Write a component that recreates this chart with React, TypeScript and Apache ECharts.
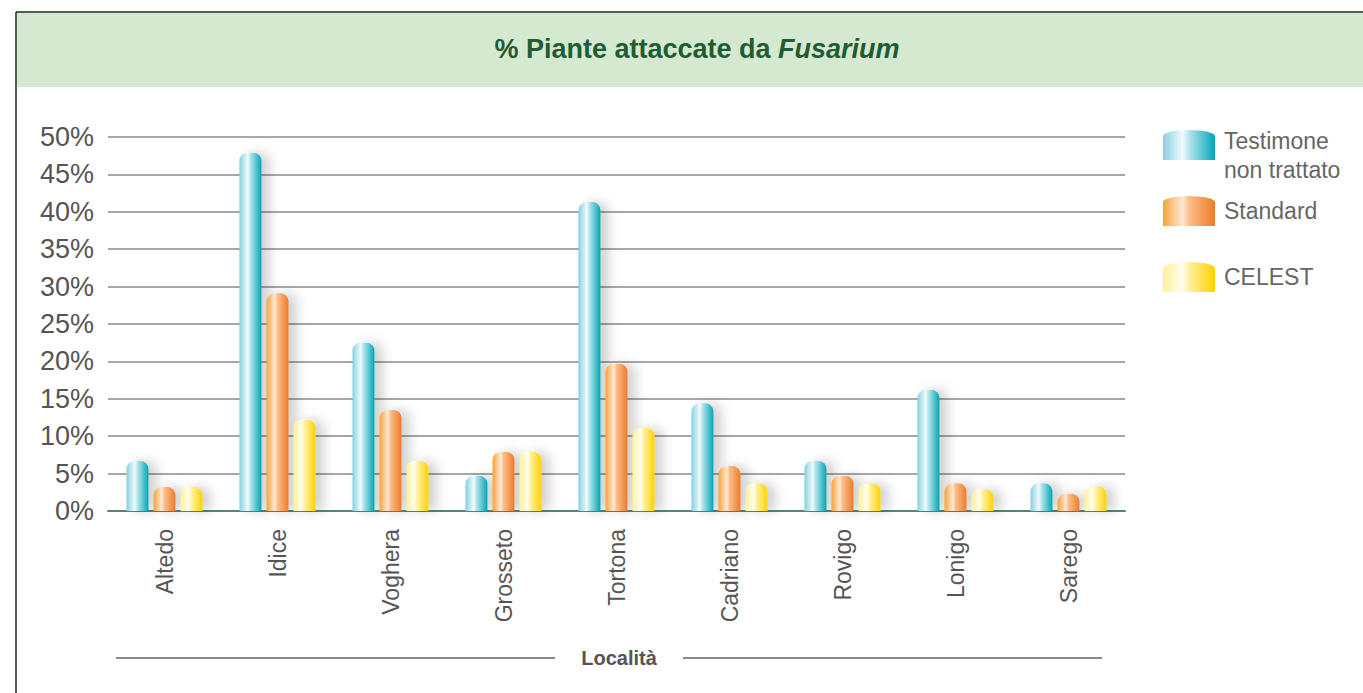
import React, { useEffect, useRef } from "react";
import * as echarts from "echarts";

const categories = ["Altedo", "Idice", "Voghera", "Grosseto", "Tortona", "Cadriano", "Rovigo", "Lonigo", "Sarego"];
const testimone = [6.7, 47.9, 22.5, 4.7, 41.3, 14.4, 6.7, 16.2, 3.7];
const standard = [3.2, 29.1, 13.5, 7.9, 19.7, 6.0, 4.7, 3.7, 2.3];
const celest = [3.2, 12.2, 6.7, 7.9, 11.1, 3.7, 3.7, 2.9, 3.3];
const seriesNames = ["Testimone\nnon trattato", "Standard", "CELEST"];

const grad = (a: string, b: string, c: string, d: string) =>
  new echarts.graphic.LinearGradient(0, 0, 1, 0, [
    { offset: 0, color: a },
    { offset: 0.38, color: b },
    { offset: 0.5, color: c },
    { offset: 1, color: d },
  ]);

const colors = [
  () => grad("#84d1e0", "#f2fbfc", "#b5e4ec", "#00a6b5"),
  () => grad("#f9a235", "#fde9d8", "#fbbf8c", "#ef7a27"),
  () => grad("#fff29a", "#fffdf0", "#fff1a0", "#ffd200"),
];

const legendIcon = "path://M0,30 L0,6 A26,6 0 0 1 52,6 L52,30 Z";

export default function App() {
  const ref = useRef<HTMLDivElement>(null);
  useEffect(() => {
    if (!ref.current) return;
    const chart = echarts.init(ref.current, null, { renderer: "svg" });
    const data = [testimone, standard, celest];
    const legendTops = [114, 196, 262];
    chart.setOption({
      animation: false,
      backgroundColor: "#ffffff",
      grid: { left: 108, right: 238, top: 137, bottom: 182, containLabel: false },
      legend: seriesNames.map((n, i) => ({
        data: [n],
        orient: "vertical",
        left: 1163,
        top: legendTops[i],
        itemWidth: 52,
        itemHeight: 30,
        itemGap: 0,
        padding: 0,
        icon: legendIcon,
        selectedMode: false,
        formatter: (name: string) =>
          i === 0
            ? "{s| }\n" + name.split("\n").map((t) => "{a|" + t + "}").join("\n")
            : "{a|" + name + "}",
        textStyle: {
          color: "#666",
          fontSize: 23,
          fontFamily: "Liberation Sans",
          padding: [0, 0, 0, 4],
          rich: {
            s: { fontSize: 4, lineHeight: 20 },
            a: { fontSize: 23, lineHeight: 29, color: "#666", fontFamily: "Liberation Sans" },
          },
        },
      })),
      xAxis: {
        type: "category",
        data: categories,
        axisTick: { show: false },
        axisLine: { lineStyle: { color: "#4d8a72", width: 2 } },
        axisLabel: { rotate: 90, margin: 18, fontSize: 23, color: "#555", fontFamily: "Liberation Sans" },
      },
      yAxis: {
        type: "value",
        min: 0,
        max: 50,
        interval: 5,
        axisLine: { show: false },
        axisTick: { show: false },
        axisLabel: { formatter: "{value}%", fontSize: 27, color: "#555", margin: 14, fontFamily: "Liberation Sans" },
        splitLine: { lineStyle: { color: "#8a8a8a", width: 1.5 } },
      },
      series: data.map((d, i) => ({
        type: "bar",
        name: seriesNames[i],
        data: d,
        barWidth: 22,
        barGap: "23%",
        itemStyle: {
          color: colors[i](),
          borderRadius: [8, 8, 0, 0],
          shadowColor: "rgba(0,0,0,0.18)",
          shadowBlur: 12,
          shadowOffsetX: 8,
          shadowOffsetY: 0,
        },
      })),
      graphic: [
        { type: "rect", shape: { x: 17, y: 13, width: 1346, height: 74 }, style: { fill: "#d5e8d0" }, silent: true, z: -10 },
        { type: "line", shape: { x1: 16, y1: 12, x2: 1363, y2: 12 }, style: { stroke: "#222", lineWidth: 1.5 }, silent: true },
        { type: "line", shape: { x1: 16, y1: 12, x2: 16, y2: 693 }, style: { stroke: "#222", lineWidth: 1.5 }, silent: true },
        {
          type: "text",
          x: 697,
          y: 49,
          style: {
            text: "{a|% Piante attaccate da }{b|Fusarium}",
            align: "center",
            verticalAlign: "middle",
            rich: {
              a: { fontSize: 27, fontWeight: "bold", fill: "#1f5c35", fontFamily: "Liberation Sans Narrow, Liberation Sans" },
              b: { fontSize: 27, fontWeight: "bold", fontStyle: "italic", fill: "#1f5c35", fontFamily: "Liberation Sans Narrow, Liberation Sans" },
            },
          },
          silent: true,
        },
        { type: "line", shape: { x1: 116, y1: 658, x2: 555, y2: 658 }, style: { stroke: "#666", lineWidth: 1.5 }, silent: true },
        { type: "line", shape: { x1: 683, y1: 658, x2: 1102, y2: 658 }, style: { stroke: "#666", lineWidth: 1.5 }, silent: true },
        {
          type: "text",
          x: 619,
          y: 658,
          style: { text: "Località", align: "center", verticalAlign: "middle", fontSize: 20, fontWeight: "bold", fill: "#555", fontFamily: "Liberation Sans Narrow, Liberation Sans" },
          silent: true,
        },
      ],
    });
    return () => chart.dispose();
  }, []);
  return <div ref={ref} style={{ position: "absolute", left: 0, top: 0, width: 1363, height: 693 }} />;
}
